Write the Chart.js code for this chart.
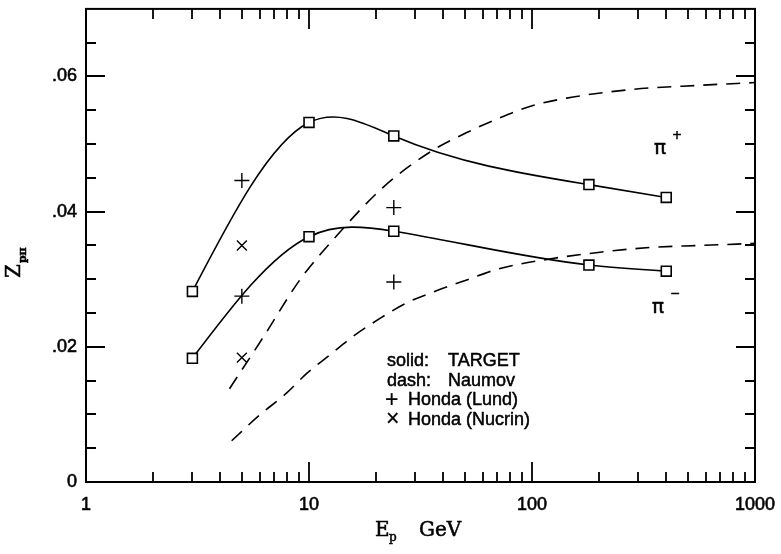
<!DOCTYPE html>
<html>
<head>
<meta charset="utf-8">
<script src="https://cdn.jsdelivr.net/npm/chart.js@4.4.1/dist/chart.umd.min.js"></script>
<style>
  html, body { margin: 0; padding: 0; background: #fff; }
  #c { display: block; }
</style>
</head>
<body>
<canvas id="c" width="781" height="554"></canvas>
<script>
// Beam energies (GeV) of the TARGET model points
const energyTarget = [3, 10, 24, 180, 400];
const targetPiPlus = [0.0282, 0.0532, 0.0512, 0.0440, 0.0421];
const targetPiMinus = [0.0183, 0.0363, 0.0371, 0.0321, 0.0312];

// Honda (Lund) points
const energyHondaLund = [5, 5, 24, 24];
const hondaLund = [0.0446, 0.0275, 0.0406, 0.0296];

// Honda (Nucrin) points
const energyHondaNucrin = [5, 5];
const hondaNucrin = [0.0350, 0.0184];

// Naumov curves
const energyNaumovPlus = [4.4, 6.2, 9.1, 12.8, 21.5, 36, 51, 72, 101, 143, 284, 567, 1000];
const naumovPiPlus = [0.0138, 0.0213, 0.0299, 0.0358, 0.0436, 0.0491, 0.0517, 0.0539, 0.0557, 0.0568, 0.0581, 0.0587, 0.0591];
const energyNaumovMinus = [4.5, 6.0, 7.9, 9.8, 12.4, 15.7, 20.8, 27.4, 36, 51, 72, 120, 202, 338, 567, 1000];
const naumovPiMinus = [0.0061, 0.0099, 0.0131, 0.0161, 0.0188, 0.0215, 0.0242, 0.0265, 0.0281, 0.0299, 0.0316, 0.0330, 0.0340, 0.0347, 0.0350, 0.0353];

// Axis ticks and labels
const xMajorTicks = [1, 10, 100, 1000];
const xTickLabels = ['1', '10', '100', '1000'];
const xMinorTicks = [2, 3, 4, 5, 6, 7, 8, 9, 20, 30, 40, 50, 60, 70, 80, 90, 200, 300, 400, 500, 600, 700, 800, 900];
const yMajorTicks = [0, 0.02, 0.04, 0.06];
const yTickLabels = ['0', '.02', '.04', '.06'];
const yMinorTicks = [0.005, 0.01, 0.015, 0.025, 0.03, 0.035, 0.045, 0.05, 0.055, 0.065];

const INK = '#000';
const SANS = '"Liberation Sans", Arial, Helvetica, sans-serif';
const SERIF = '"DejaVu Serif", "Liberation Serif", serif';

const pairs = (xs, ys) => xs.map((v, i) => ({ x: v, y: ys[i] }));
const findLabel = (v, majors, labels) => {
  for (let i = 0; i < majors.length; i++) {
    if (Math.abs(v - majors[i]) <= Math.abs(majors[i]) * 1e-6 + 1e-9) return labels[i];
  }
  return '';
};

// Natural cubic spline through the drawn points: replaces the bezier control
// points of datasets flagged with `naturalSpline` before the line is stroked.
const naturalSpline = {
  id: 'naturalSpline',
  beforeDatasetDraw(chart, args) {
    const ds = chart.data.datasets[args.index];
    if (!ds.naturalSpline) return;
    const line = args.meta.dataset;
    line.updateControlPoints(chart.chartArea, 'x');
    const pts = args.meta.data;
    const n = pts.length;
    if (n < 3) return;
    const X = pts.map(p => p.x), Y = pts.map(p => p.y);
    const h = [], s = [];
    for (let i = 0; i < n - 1; i++) { h.push(X[i + 1] - X[i]); s.push((Y[i + 1] - Y[i]) / h[i]); }
    // tridiagonal system for second derivatives (M0 = Mn-1 = 0)
    const a = [], b = [], c = [], d = [];
    for (let i = 1; i < n - 1; i++) {
      a.push(h[i - 1]); b.push(2 * (h[i - 1] + h[i])); c.push(h[i]); d.push(6 * (s[i] - s[i - 1]));
    }
    const m = a.length;
    for (let i = 1; i < m; i++) {
      const w = a[i] / b[i - 1];
      b[i] -= w * c[i - 1];
      d[i] -= w * d[i - 1];
    }
    const inner = new Array(m);
    for (let i = m - 1; i >= 0; i--) inner[i] = (d[i] - (i < m - 1 ? c[i] * inner[i + 1] : 0)) / b[i];
    const M = [0, ...inner, 0];
    const slope = new Array(n);
    for (let i = 0; i < n - 1; i++) slope[i] = s[i] - h[i] * (2 * M[i] + M[i + 1]) / 6;
    slope[n - 1] = s[n - 2] + h[n - 2] * (M[n - 2] + 2 * M[n - 1]) / 6;
    for (let i = 0; i < n - 1; i++) {
      const third = h[i] / 3;
      pts[i].cp2x = X[i] + third;
      pts[i].cp2y = Y[i] + slope[i] * third;
      pts[i + 1].cp1x = X[i + 1] - third;
      pts[i + 1].cp1y = Y[i + 1] - slope[i + 1] * third;
    }
  }
};

// Box frame with inward tick marks on all four sides, plus the text annotations
const frameAndText = {
  id: 'frameAndText',
  afterDatasetsDraw(chart) {
    const { ctx, chartArea: a, scales: { x, y } } = chart;
    ctx.save();
    ctx.strokeStyle = INK;
    ctx.lineWidth = 2;
    ctx.strokeRect(a.left, a.top, a.right - a.left, a.bottom - a.top);

    ctx.lineWidth = 1.8;
    ctx.beginPath();
    const tickX = (v, len) => {
      const px = Math.round(x.getPixelForValue(v));
      ctx.moveTo(px, a.bottom); ctx.lineTo(px, a.bottom - len);
      ctx.moveTo(px, a.top); ctx.lineTo(px, a.top + len);
    };
    const tickY = (v, len) => {
      const py = Math.round(y.getPixelForValue(v));
      ctx.moveTo(a.left, py); ctx.lineTo(a.left + len, py);
      ctx.moveTo(a.right, py); ctx.lineTo(a.right - len, py);
    };
    xMajorTicks.forEach(v => tickX(v, 20));
    xMinorTicks.forEach(v => tickX(v, 10));
    yMajorTicks.forEach(v => tickY(v, 19));
    yMinorTicks.forEach(v => tickY(v, 10));
    ctx.stroke();

    ctx.fillStyle = INK;
    ctx.textBaseline = 'alphabetic';
    ctx.textAlign = 'left';
    ctx.lineWidth = 0.5;
    const text = (str, px, py) => { ctx.fillText(str, px, py); ctx.strokeText(str, px, py); };

    // x axis title: E_p  GeV
    ctx.font = '20px ' + SERIF;
    text('E', 375, 536);
    ctx.font = '12px ' + SERIF;
    text('p', 389, 541);
    ctx.font = '20px ' + SERIF;
    text('GeV', 419, 536);

    // y axis title: Z_pπ (rotated)
    ctx.save();
    ctx.translate(20, 278);
    ctx.rotate(-Math.PI / 2);
    ctx.font = '20px ' + SERIF;
    text('Z', 0, 0);
    const zw = ctx.measureText('Z').width;
    ctx.font = 'bold 11px ' + SERIF;
    text('pπ', zw + 1, 6);
    ctx.restore();

    // curve labels
    ctx.font = '20px "DejaVu Sans", sans-serif';
    text('π', 654, 154);
    text('π', 652, 313);
    ctx.font = '12px "DejaVu Sans", sans-serif';
    text('+', 672, 139);
    text('−', 670, 297);

    // key
    ctx.font = '18px ' + SANS;
    text('solid:', 387, 366);
    text('TARGET', 448, 366);
    text('dash:', 387, 386);
    text('Naumov', 448, 386);
    text('Honda (Lund)', 408, 405);
    text('Honda (Nucrin)', 408, 425);
    ctx.font = '23px ' + SANS;
    ctx.lineWidth = 0.2;
    text('+', 385, 407);
    text('×', 386, 426);
    ctx.restore();
  }
};

const lineCommon = { showLine: true, borderColor: INK, borderWidth: 1.6, fill: false };

new Chart(document.getElementById('c'), {
  type: 'scatter',
  data: {
    datasets: [
      {
        ...lineCommon, label: 'Naumov π+', data: pairs(energyNaumovPlus, naumovPiPlus),
        borderDash: [14, 9], pointRadius: 0, cubicInterpolationMode: 'monotone'
      },
      {
        ...lineCommon, label: 'Naumov π-', data: pairs(energyNaumovMinus, naumovPiMinus),
        borderDash: [14, 9], pointRadius: 0, cubicInterpolationMode: 'monotone'
      },
      {
        ...lineCommon, label: 'TARGET π+', data: pairs(energyTarget, targetPiPlus),
        tension: 0.4, naturalSpline: true, pointStyle: 'rect', pointRadius: 7, pointBorderWidth: 1.6,
        pointBackgroundColor: '#fff', pointBorderColor: INK
      },
      {
        ...lineCommon, label: 'TARGET π-', data: pairs(energyTarget, targetPiMinus),
        tension: 0.4, naturalSpline: true, pointStyle: 'rect', pointRadius: 7, pointBorderWidth: 1.6,
        pointBackgroundColor: '#fff', pointBorderColor: INK
      },
      {
        label: 'Honda (Lund)', data: pairs(energyHondaLund, hondaLund), showLine: false,
        pointStyle: 'cross', pointRadius: 7.5, pointBorderWidth: 1.4, pointBorderColor: INK
      },
      {
        label: 'Honda (Nucrin)', data: pairs(energyHondaNucrin, hondaNucrin), showLine: false,
        pointStyle: 'crossRot', pointRadius: 7, pointBorderWidth: 1.4, pointBorderColor: INK
      }
    ]
  },
  options: {
    responsive: false,
    devicePixelRatio: 1,
    animation: false,
    layout: { padding: { left: 0, right: 26, top: 8, bottom: 0 } },
    plugins: { legend: { display: false }, tooltip: { enabled: false } },
    scales: {
      x: {
        type: 'logarithmic', min: 1, max: 1000,
        grid: { display: false, drawTicks: false },
        border: { display: false },
        ticks: {
          autoSkip: false, maxRotation: 0, padding: 12, color: INK,
          textStrokeColor: INK, textStrokeWidth: 0.6,
          font: { family: SANS, size: 18 },
          callback: v => findLabel(v, xMajorTicks, xTickLabels)
        },
        afterFit: s => { s.height = 72; s.paddingLeft = 0; s.paddingRight = 0; }
      },
      y: {
        type: 'linear', min: 0, max: 0.07,
        grid: { display: false, drawTicks: false },
        border: { display: false },
        ticks: {
          stepSize: 0.005, autoSkip: false, padding: 9, color: INK,
          textStrokeColor: INK, textStrokeWidth: 0.6,
          font: { family: SANS, size: 18 },
          callback: v => findLabel(v, yMajorTicks, yTickLabels)
        },
        afterFit: s => { s.width = 86; s.paddingTop = 0; s.paddingBottom = 0; }
      }
    }
  },
  plugins: [naturalSpline, frameAndText]
});
</script>
</body>
</html>
